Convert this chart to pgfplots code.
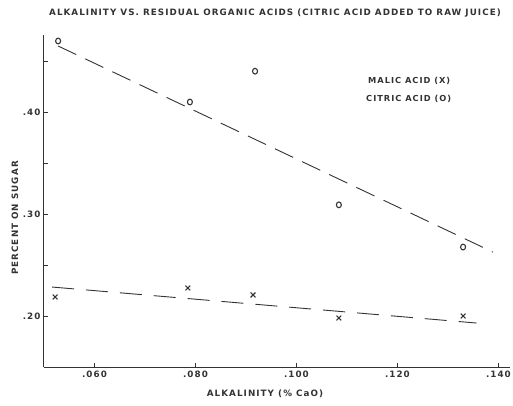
\documentclass[border=0pt]{standalone}
\usepackage{fontspec}
\setmainfont{DejaVu Sans}
\newfontfamily\lett[LetterSpace=12]{DejaVu Sans Bold}
\usepackage{pgfplots}
\pgfplotsset{compat=1.18}
\definecolor{ink}{HTML}{333333}
\begin{document}
\begin{tikzpicture}[x=1bp,y=1bp]
\useasboundingbox (-44,-38) rectangle (469,367);
\begin{axis}[
 scale only axis, width=466bp, height=332bp,
 at={(0,0)}, anchor=south west,
 xmin=0.05, xmax=0.1423, ymin=0.15, ymax=0.4755,
 axis x line*=bottom, axis y line*=left,
 xtick={0.06,0.08,0.10,0.12,0.14}, xticklabels={.060,.080,.100,.120,.140},
 ytick={0.2,0.3,0.4}, yticklabels={.20,.30,.40},
 minor ytick={0.25,0.35,0.45},
 tick align=inside, major tick length=4bp, minor tick length=4bp,
 every tick/.style={ink, line width=0.8bp},
 axis line style={ink, line width=1bp},
 ticklabel style={font=\lett\fontsize{8.8}{10}\selectfont, text=ink},
 /pgf/number format/assume math mode=true,
 clip=false,
]
\addplot[ink, line width=0.9bp, dash pattern=on 20bp off 10bp] coordinates {(0.0528,0.4647) (0.1389,0.2627)};
\addplot[ink, line width=0.9bp, dash pattern=on 22bp off 12bp] coordinates {(0.0516,0.2284) (0.1357,0.1931)};
\addplot[only marks, mark=o, mark size=2.5bp, ink, mark options={line width=1.1bp, yscale=1.15}] coordinates {
(0.0528,0.4696) (0.0789,0.4098) (0.0918,0.440) (0.1084,0.309) (0.1330,0.2676)};
\addplot[only marks, mark=x, mark size=3.4bp, ink, mark options={line width=1.1bp}] coordinates {
(0.0522,0.2186) (0.0785,0.2275) (0.0914,0.2206) (0.1084,0.198) (0.1330,0.200)};
\end{axis}
\node[ink, font=\lett\fontsize{8.8}{10}\selectfont] at (231,354) {ALKALINITY VS. RESIDUAL ORGANIC ACIDS (CITRIC ACID ADDED TO RAW JUICE)};
\node[ink, font=\lett\fontsize{8.8}{10}\selectfont, rotate=90] at (-29,149) {PERCENT ON SUGAR};
\node[ink, font=\lett\fontsize{8.8}{10}\selectfont] at (221,-27) {ALKALINITY (\% CaO)};
\node[ink, font=\lett\fontsize{8.3}{10}\selectfont, anchor=west, inner sep=0pt] at (324,286) {MALIC ACID (X)};
\node[ink, font=\lett\fontsize{8.3}{10}\selectfont, anchor=west, inner sep=0pt] at (322,268) {CITRIC ACID (O)};
\end{tikzpicture}
\end{document}
